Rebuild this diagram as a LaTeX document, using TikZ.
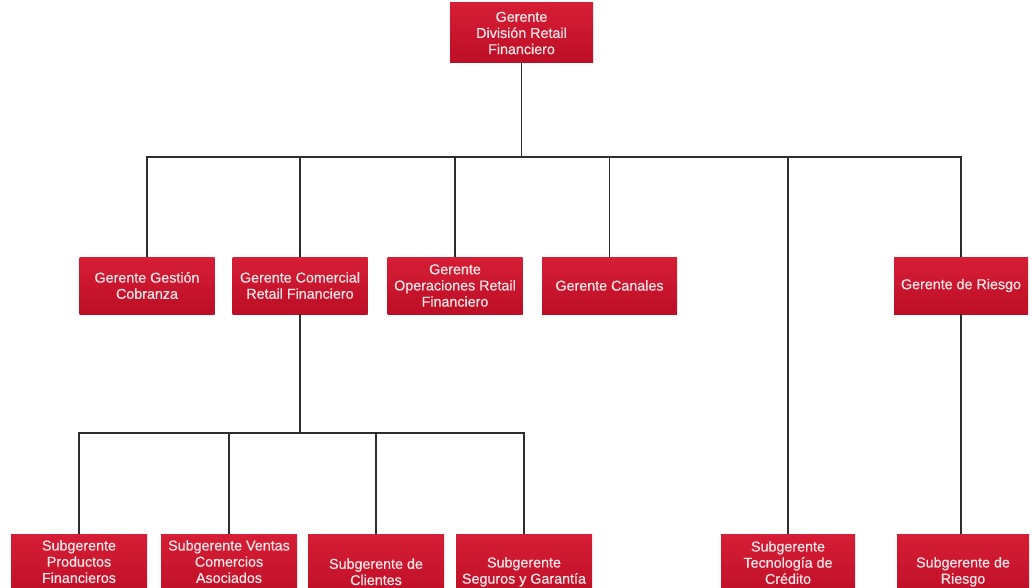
\documentclass[tikz,border=0pt]{standalone}
\usepackage{fontspec}
\setmainfont{Liberation Sans}[FakeBold=0.6]
\begin{document}
\definecolor{boxtop}{RGB}{214,30,54}
\definecolor{boxbot}{RGB}{188,14,38}
\definecolor{boxtext}{RGB}{250,228,230}
\definecolor{linkc}{RGB}{45,45,45}
\begin{tikzpicture}[x=1pt,y=-1pt,
  orgbox/.style={top color=boxtop,bottom color=boxbot,draw=none,
    text=boxtext,align=center,inner sep=1pt,
    font=\fontsize{14.3}{16.2}\selectfont},
  lvltop/.style={orgbox,minimum width=143pt,minimum height=60pt},
  lvlmid/.style={orgbox,minimum width=135pt,minimum height=57pt},
  lvlsub/.style={orgbox,minimum width=136pt,minimum height=66pt},
  link/.style={draw=linkc,line width=1.7pt}]
\useasboundingbox (0,0) rectangle (1032,588);
\fill[white] (0,0) rectangle (1032,588);
\clip (0,0) rectangle (1032,588);

% head of the division
\node[lvltop] (top) at (521.5,33) {Gerente\\División Retail\\Financiero};

% managers
\node[lvlmid] (cob) at (147,285.5) {Gerente Gestión\\Cobranza};
\node[lvlmid] (com) at (300,285.5) {Gerente Comercial\\Retail Financiero};
\node[lvlmid] (ope) at (455,285.5) {Gerente\\Operaciones Retail\\Financiero};
\node[lvlmid] (can) at (609.5,285.5) {Gerente Canales};
\node[lvlmid,minimum width=134pt] (rie) at (961,285.5) {Gerente de Riesgo};

% deputy managers (struts set the text a little higher or lower in the box)
\node[lvlsub] (pro) at (79,567) {Subgerente\\Productos\\Financieros\rule[-11pt]{0pt}{11pt}};
\node[lvlsub] (ven) at (229,567) {Subgerente Ventas\\Comercios\\Asociados\rule[-11pt]{0pt}{11pt}};
\node[lvlsub] (cli) at (376,567) {\rule{0pt}{20pt}Subgerente de\\Clientes};
\node[lvlsub] (seg) at (524,567) {\rule{0pt}{20pt}Subgerente\\Seguros y Garantía};
\node[lvlsub,minimum width=134pt] (tec) at (788,567) {Subgerente\\Tecnología de\\Crédito\rule[-9pt]{0pt}{9pt}};
\node[lvlsub,minimum width=132pt] (srie) at (963,567) {\rule{0pt}{20pt}Subgerente de\\Riesgo};

% bus junctions
\coordinate (b1) at (521.5,157);
\coordinate (b2) at (300,433);

% connectors
\draw[link] (top) -- (b1);
\draw[link] (cob) |- (b1) -| (rie);
\draw[link] (com) |- (b1);
\draw[link] (ope) |- (b1);
\draw[link] (can) |- (b1);
\draw[link] (tec) |- (b1);
\draw[link] (rie.south -| 961,0) -- (srie.north -| 961,0);
\draw[link] (com) -- (b2);
\draw[link] (pro) |- (b2) -| (seg);
\draw[link] (ven) |- (b2);
\draw[link] (cli) |- (b2);
\end{tikzpicture}
\end{document}
